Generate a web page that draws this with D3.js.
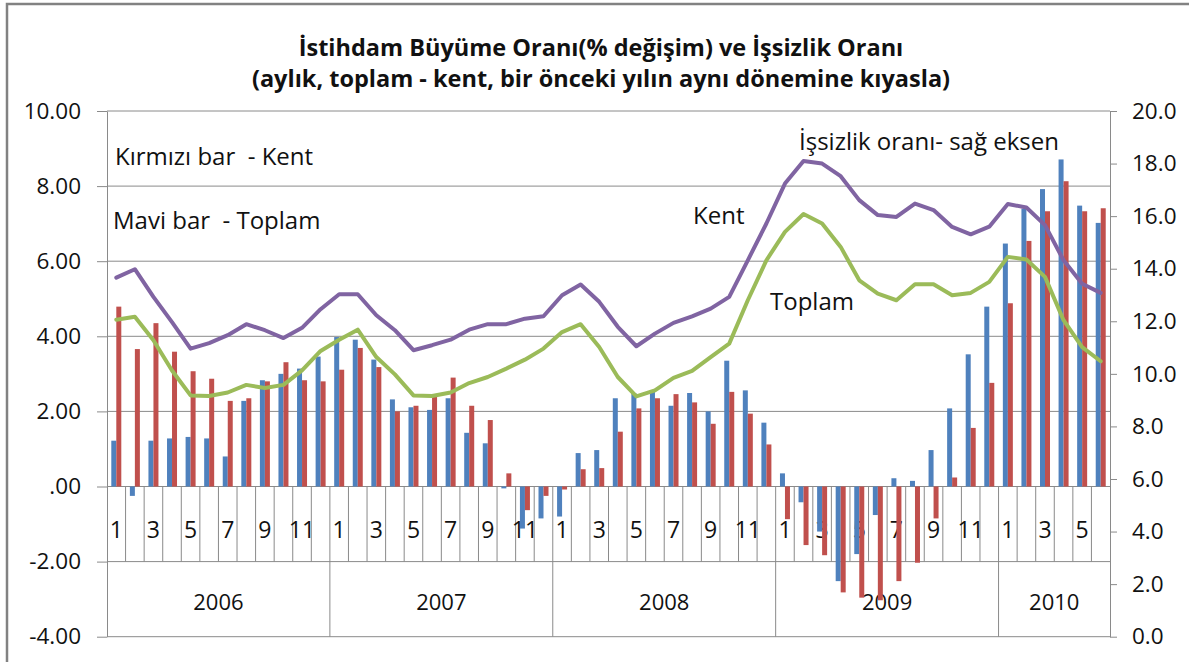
<!DOCTYPE html>
<html lang="tr">

<head>
    <meta charset="utf-8">
    <script src="https://cdn.jsdelivr.net/npm/d3@7"></script>
    <style>
        body {
            margin: 0;
            background: #fff;
        }

        svg text {
            font-family: "Open Sans", "DejaVu Sans", sans-serif;
            fill: #111;
            white-space: pre;
        }
    </style>
</head>

<body>
    <div id="chart"></div>

    <script>
        // aylar 2006-01 .. 2010-06
        const years = [2006, 2007, 2008, 2009, 2010];
        const monthsPerYear = [12, 12, 12, 12, 6];
        const monthLabels = ["1", "", "3", "", "5", "", "7", "", "9", "", "11", ""];

        // istihdam büyüme oranı (%), sol eksen
        const toplam = [
            1.22, -0.25, 1.22, 1.28, 1.32, 1.28, 0.80, 2.28, 2.83, 3.00, 3.14, 3.46,
            3.98, 3.91, 3.38, 2.32, 2.11, 2.04, 2.35, 1.43, 1.15, -0.05, -1.12, -0.85,
            -0.80, 0.89, 0.97, 2.35, 2.49, 2.53, 2.15, 2.49, 2.00, 3.35, 2.56, 1.70,
            0.35, -0.42, -1.20, -2.52, -1.80, -0.76, 0.22, 0.15, 0.97, 2.08, 3.52, 4.79,
            6.47, 7.40, 7.92, 8.71, 7.48, 7.02
        ];
        const kent = [
            4.79, 3.66, 4.35, 3.59, 3.07, 2.87, 2.28, 2.35, 2.80, 3.31, 2.83, 2.80,
            3.11, 3.69, 3.18, 2.00, 2.15, 2.40, 2.90, 2.15, 1.77, 0.35, -0.63, -0.25,
            -0.08, 0.46, 0.49, 1.46, 2.08, 2.35, 2.46, 2.24, 1.67, 2.52, 1.94, 1.12,
            -0.87, -1.56, -1.83, -2.82, -2.96, -3.03, -2.52, -2.03, -0.85, 0.24, 1.56, 2.76,
            4.88, 6.54, 7.33, 8.13, 7.33, 7.41
        ];

        // işsizlik oranı (%), sağ eksen
        const issizlikKent = [
            13.66, 13.98, 12.93, 11.97, 10.96, 11.17, 11.47, 11.89, 11.66, 11.36, 11.75, 12.46,
            13.03, 13.03, 12.23, 11.66, 10.90, 11.09, 11.30, 11.68, 11.89, 11.89, 12.10, 12.19,
            12.99, 13.40, 12.74, 11.79, 11.05, 11.53, 11.94, 12.19, 12.48, 12.93, 14.32, 15.72,
            17.24, 18.10, 18.00, 17.52, 16.61, 16.04, 15.97, 16.48, 16.23, 15.59, 15.31, 15.60,
            16.46, 16.33, 15.66, 14.32, 13.43, 13.08
        ];
        const issizlikToplam = [
            12.06, 12.17, 11.28, 10.13, 9.18, 9.16, 9.29, 9.58, 9.46, 9.58, 10.13, 10.87,
            11.30, 11.68, 10.64, 9.98, 9.18, 9.16, 9.29, 9.65, 9.88, 10.20, 10.54, 10.96,
            11.59, 11.89, 11.02, 9.88, 9.14, 9.37, 9.85, 10.11, 10.64, 11.15, 12.80, 14.32,
            15.40, 16.08, 15.72, 14.83, 13.56, 13.05, 12.80, 13.41, 13.41, 12.99, 13.08, 13.50,
            14.45, 14.35, 13.69, 12.04, 11.02, 10.48
        ];

        const leftTicks = [-4, -2, 0, 2, 4, 6, 8, 10];
        const rightTicks = [0, 2, 4, 6, 8, 10, 12, 14, 16, 18, 20];

        const width = 1189, height = 662;
        const plot = { left: 107, right: 1110, top: 111, bottom: 636.7 };
        const gridColor = "#8a8a8a";

        // one record per month
        const data = [];
        years.forEach((y, yi) => {
            for (let m = 0; m < monthsPerYear[yi]; m++) {
                const i = data.length;
                data.push({
                    i: i, year: y, month: m + 1, label: monthLabels[m],
                    toplam: toplam[i], kent: kent[i],
                    uKent: issizlikKent[i], uToplam: issizlikToplam[i]
                });
            }
        });

        const x = d3.scaleBand().domain(data.map(d => d.i)).range([plot.left, plot.right]);
        const xInner = d3.scaleBand().domain(["toplam", "kent"]).range([4.3, 14.3]);
        const yL = d3.scaleLinear().domain([-4, 10]).range([plot.bottom, plot.top]);
        const yR = d3.scaleLinear().domain([0, 20]).range([plot.bottom, plot.top]);

        const svg = d3.select("#chart")
            .append("svg")
            .attr("width", width)
            .attr("height", height);

        // chart frame
        svg.append("rect")
            .attr("x", 7).attr("y", 4)
            .attr("width", 1200).attr("height", 700)
            .attr("fill", "#fff")
            .attr("stroke", "#828282")
            .attr("stroke-width", 2.5);

        // title
        const title = svg.append("text")
            .attr("text-anchor", "middle")
            .style("font-weight", "bold")
            .style("font-size", "23.5px");
        title.append("tspan").attr("x", 601).attr("y", 56)
            .text("İstihdam Büyüme Oranı(% değişim) ve İşsizlik Oranı");
        title.append("tspan").attr("x", 601).attr("y", 87)
            .text("(aylık, toplam - kent, bir önceki yılın aynı dönemine kıyasla)");

        // horizontal gridlines (positive part)
        svg.append("g")
            .selectAll("line")
            .data(leftTicks.filter(t => t > 0))
            .join("line")
            .attr("x1", plot.left).attr("x2", plot.right)
            .attr("y1", d => yL(d)).attr("y2", d => yL(d))
            .attr("stroke", gridColor);

        // category axis cells: month row between 0 and -2, year row between -2 and -4
        const cat = svg.append("g").attr("stroke", gridColor);
        [0, -2, -4].forEach(v => {
            cat.append("line")
                .attr("x1", plot.left).attr("x2", plot.right)
                .attr("y1", yL(v)).attr("y2", yL(v));
        });
        cat.selectAll(".mline")
            .data(data.slice(1))
            .join("line")
            .attr("x1", d => x(d.i)).attr("x2", d => x(d.i))
            .attr("y1", yL(0))
            .attr("y2", d => d.month === 1 ? yL(-4) : yL(-2));

        svg.append("g")
            .selectAll("text")
            .data(data.filter(d => d.label))
            .join("text")
            .attr("x", d => x(d.i) + x.bandwidth() / 2)
            .attr("y", 538)
            .attr("text-anchor", "middle")
            .style("font-size", "23px")
            .text(d => d.label);

        const yearSpans = years.map(y => {
            const ds = data.filter(d => d.year === y);
            return { year: y, x0: x(ds[0].i), x1: x(ds[ds.length - 1].i) + x.bandwidth() };
        });
        svg.append("g")
            .selectAll("text")
            .data(yearSpans)
            .join("text")
            .attr("x", d => (d.x0 + d.x1) / 2)
            .attr("y", 610)
            .attr("text-anchor", "middle")
            .style("font-size", "22px")
            .text(d => d.year);

        // bars
        const barW = xInner.bandwidth();
        const bars = svg.append("g");
        [["toplam", "#4F81BD"], ["kent", "#C0504D"]].forEach(([key, color]) => {
            bars.append("g")
                .selectAll("rect")
                .data(data)
                .join("rect")
                .attr("x", d => x(d.i) + xInner(key))
                .attr("width", barW)
                .attr("y", d => yL(Math.max(0, d[key])))
                .attr("height", d => Math.abs(yL(d[key]) - yL(0)))
                .attr("fill", color);
        });

        // unemployment lines
        const line = key => d3.line()
            .x(d => x(d.i) + x.bandwidth() / 2)
            .y(d => yR(d[key]));
        [["uToplam", "#9BBB59"], ["uKent", "#8064A2"]].forEach(([key, color]) => {
            svg.append("path")
                .datum(data)
                .attr("d", line(key))
                .attr("fill", "none")
                .attr("stroke", color)
                .attr("stroke-width", 4)
                .attr("stroke-linejoin", "round")
                .attr("stroke-linecap", "round");
        });

        // axes
        const leftAxis = d3.axisLeft(yL)
            .tickValues(leftTicks)
            .tickFormat(d => d === 0 ? ".00" : d3.format(".2f")(d).replace("−", "-"))
            .tickSize(10)
            .tickSizeOuter(0)
            .tickPadding(16);
        const gl = svg.append("g")
            .attr("transform", `translate(${plot.left},0)`)
            .call(leftAxis);

        const rightAxis = d3.axisRight(yR)
            .tickValues(rightTicks)
            .tickFormat(d3.format(".1f"))
            .tickSize(7)
            .tickSizeOuter(0)
            .tickPadding(15);
        const gr = svg.append("g")
            .attr("transform", `translate(${plot.right},0)`)
            .call(rightAxis);

        [gl, gr].forEach(g => {
            g.select(".domain").attr("stroke", gridColor);
            g.selectAll(".tick line").attr("stroke", gridColor);
            g.selectAll(".tick text")
                .style("font-size", "22.5px")
                .attr("fill", "#111");
        });

        // notes inside the plot
        const notes = [
            { t: "Kırmızı bar  - Kent", x: 115, y: 165 },
            { t: "Mavi bar  - Toplam", x: 113, y: 229 },
            { t: "Kent", x: 693, y: 224 },
            { t: "Toplam", x: 770, y: 310 },
            { t: "İşsizlik oranı- sağ eksen", x: 799, y: 150 }
        ];
        svg.append("g")
            .selectAll("text")
            .data(notes)
            .join("text")
            .attr("x", d => d.x)
            .attr("y", d => d.y)
            .style("font-size", "24px")
            .text(d => d.t);
    </script>
</body>

</html>
